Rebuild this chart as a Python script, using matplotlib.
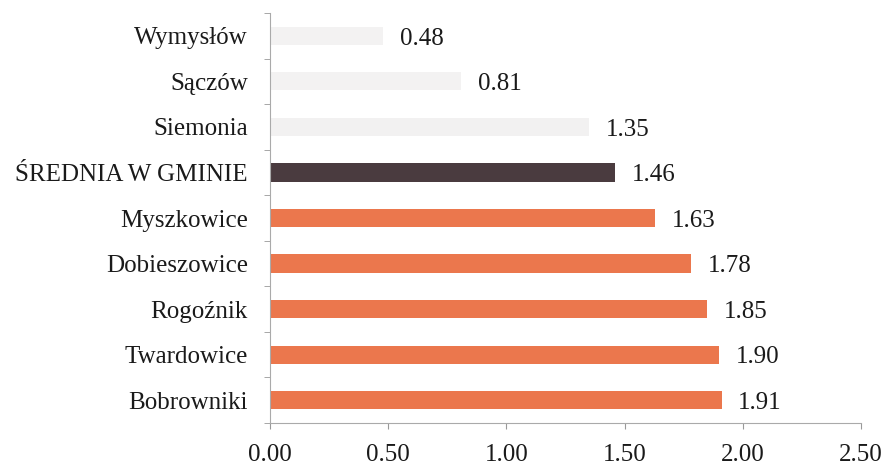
import matplotlib
matplotlib.use("Agg")
import matplotlib.pyplot as plt
import numpy as np

categories = ["Wymysłów", "Sączów", "Siemonia", "ŚREDNIA W GMINIE", "Myszkowice",
              "Dobieszowice", "Rogoźnik", "Twardowice", "Bobrowniki"]
values = [0.48, 0.81, 1.35, 1.46, 1.63, 1.78, 1.85, 1.90, 1.91]
colors = ["#f3f2f2", "#f3f2f2", "#f2f1f1", "#4a3b3f", "#eb774d",
          "#eb774d", "#eb774d", "#eb774d", "#eb774d"]
xticks = [0.0, 0.5, 1.0, 1.5, 2.0, 2.5]

plt.rcParams['font.family'] = ['Liberation Serif', 'DejaVu Serif']
FS = 18

fig = plt.figure(figsize=(8.87, 4.73), dpi=100)
ax = fig.add_axes([0.3044, 0.1057, 0.9707 - 0.3044, 0.9725 - 0.1057])

y = np.arange(len(categories))
ax.barh(y, values, height=0.4, color=colors)
for yi, v in zip(y, values):
    ax.annotate(f"{v:.2f}", (v, yi), xytext=(12, -2), textcoords="offset points",
                ha="left", va="center", fontsize=FS, color="#1a1a1a")

ax.set_ylim(len(categories) - 0.5, -0.5)
ax.set_xlim(0, 2.5)
ax.set_yticks(y)
ax.set_yticklabels(categories, fontsize=FS, color="#1a1a1a")
ax.tick_params(axis='y', which='major', length=0, pad=16)
ax.set_yticks(np.arange(-0.5, len(categories), 1), minor=True)
ax.tick_params(axis='y', which='minor', length=4, color="#999999")
ax.set_xticks(xticks)
ax.set_xticklabels([f"{t:.2f}" for t in xticks], fontsize=FS, color="#1a1a1a")
ax.tick_params(axis='x', length=4, color="#999999", pad=11)

for s in ["top", "right"]:
    ax.spines[s].set_visible(False)
for s in ["left", "bottom"]:
    ax.spines[s].set_color("#aaaaaa")
    ax.spines[s].set_linewidth(0.8)

fig.savefig("out.png", dpi=100)
